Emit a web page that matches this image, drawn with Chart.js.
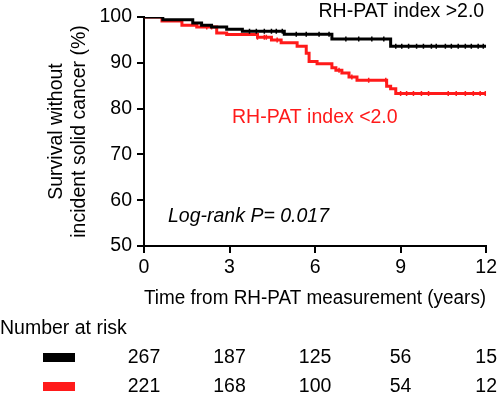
<!DOCTYPE html>
<html>
<head>
<meta charset="utf-8">
<script src="https://cdn.jsdelivr.net/npm/chart.js@4.4.1/dist/chart.umd.min.js"></script>
<style>
  html, body { margin: 0; padding: 0; background: #fff; }
  #wrap { position: relative; width: 500px; height: 397px; }
</style>
</head>
<body>
<div id="wrap"><canvas id="kmChart"></canvas></div>
<script>
// step points: survival (%) drops to the given value at the given time (years)
const highTimes = [0, 0.66, 1.71, 2.02, 2.37, 2.90, 3.45, 4.92, 6.59, 8.65, 12];
const highSurv  = [100, 99.4, 98.7, 98.2, 97.8, 97.3, 96.9, 96.25, 95.2, 93.6, 93.6];
const lowTimes  = [0, 0.63, 1.33, 1.85, 2.55, 2.90, 3.98, 4.47, 4.81, 5.37, 5.69, 5.79, 6.07, 6.59, 6.73, 6.94, 7.19, 7.47, 8.51, 8.65, 8.83, 12];
const lowSurv   = [100, 99.1, 98.2, 97.8, 96.5, 96.2, 95.6, 95.0, 94.4, 93.6, 92.1, 90.3, 89.8, 88.9, 88.4, 87.8, 86.9, 86.2, 84.9, 84.35, 83.3, 83.3];

// censored observations (years)
const highCensor = [3.7, 3.94, 4.22, 4.47, 4.64, 4.85, 5.34, 5.69, 6.14, 6.49, 7.08, 7.53, 7.99, 8.41,
  8.83, 9.04, 9.28, 9.56, 9.8, 10.08, 10.25, 10.57, 10.78, 11.02, 11.27, 11.48, 11.72, 11.9];
const lowCensor = [2.2, 2.37, 3.98, 4.22, 4.29, 4.67, 6.84, 7.29, 7.88, 8.48,
  9.0, 9.21, 9.45, 9.73, 9.98, 10.67, 10.95, 11.27, 11.55, 11.79, 11.97];

const riskTimes = [0, 3, 6, 9, 12];
const riskHigh  = [267, 187, 125, 56, 15];
const riskLow   = [221, 168, 100, 54, 12];

const xTicks = [0, 3, 6, 9, 12];
const yTicks = [50, 60, 70, 80, 90, 100];

const RED = "#ff1a1a";
const FONT = "'Liberation Sans', Arial, Helvetica, sans-serif";
const FS = 19.5;

function toPoints(times, surv) {
  return times.map((t, i) => ({ x: t, y: surv[i] }));
}

function survAt(times, surv, t) {
  let s = surv[0];
  for (let i = 0; i < times.length; i++) {
    if (times[i] <= t) s = surv[i];
  }
  return s;
}

function censorPoints(cens, times, surv) {
  return cens.map(t => ({ x: t, y: survAt(times, surv, t) }));
}

const textPlugin = {
  id: "kmText",
  afterDraw(chart) {
    const { ctx, scales } = chart;
    const xs = scales.x;
    ctx.save();
    ctx.textBaseline = "middle";

    ctx.font = `${FS}px ${FONT}`;
    ctx.fillStyle = "#000";
    ctx.textAlign = "right";
    ctx.fillText("RH-PAT index >2.0", xs.getPixelForValue(12) - 2, 12);

    ctx.fillStyle = RED;
    ctx.textAlign = "left";
    ctx.fillText("RH-PAT index <2.0", 232, 118);

    ctx.fillStyle = "#000";
    ctx.font = `italic ${FS}px ${FONT}`;
    ctx.fillText("Log-rank P= 0.017", 168, 217);

    // number at risk table
    ctx.font = `${FS}px ${FONT}`;
    ctx.textAlign = "left";
    ctx.fillText("Number at risk", 0, 329);

    ctx.fillStyle = "#000";
    ctx.fillRect(43, 353, 32, 9);
    ctx.fillStyle = RED;
    ctx.fillRect(43, 382, 32, 9);

    ctx.fillStyle = "#000";
    ctx.textAlign = "center";
    riskTimes.forEach((t, i) => {
      const x = xs.getPixelForValue(t);
      ctx.fillText(String(riskHigh[i]), x, 358);
      ctx.fillText(String(riskLow[i]), x, 387);
    });
    ctx.restore();
  }
};

new Chart(document.getElementById("kmChart"), {
  type: "line",
  data: {
    datasets: [
      {
        label: "RH-PAT index >2.0",
        data: toPoints(highTimes, highSurv),
        borderColor: "#000",
        borderWidth: 3,
        stepped: "before",
        pointRadius: 0,
        fill: false
      },
      {
        type: "scatter",
        label: "censor high",
        data: censorPoints(highCensor, highTimes, highSurv),
        pointStyle: "line",
        rotation: 90,
        radius: 2.5,
        borderColor: "#000",
        borderWidth: 1.5
      },
      {
        label: "RH-PAT index <2.0",
        data: toPoints(lowTimes, lowSurv),
        borderColor: RED,
        borderWidth: 3,
        stepped: "before",
        pointRadius: 0,
        fill: false
      },
      {
        type: "scatter",
        label: "censor low",
        data: censorPoints(lowCensor, lowTimes, lowSurv),
        pointStyle: "line",
        rotation: 90,
        radius: 2.5,
        borderColor: RED,
        borderWidth: 1.5
      }
    ]
  },
  options: {
    responsive: true,
    maintainAspectRatio: false,
    animation: false,
    layout: { padding: { left: 0, top: 17, right: 12, bottom: 87 } },
    plugins: {
      legend: { display: false },
      tooltip: { enabled: false }
    },
    scales: {
      x: {
        type: "linear",
        min: 0,
        max: 12,
        afterBuildTicks: scale => { scale.ticks = xTicks.map(v => ({ value: v })); },
        afterFit: scale => { scale.height = 64; },
        border: { display: true, color: "#000", width: 2 },
        grid: { display: true, drawOnChartArea: false, drawTicks: true, tickLength: 7, color: "#000", lineWidth: 2 },
        ticks: { color: "#000", padding: 3, maxRotation: 0, font: { family: FONT, size: FS } },
        title: {
          display: true,
          text: "Time from RH-PAT measurement (years)",
          color: "#000",
          align: "center",
          padding: 0,
          font: { family: FONT, size: 20 }
        }
      },
      y: {
        min: 50,
        max: 100,
        afterBuildTicks: scale => { scale.ticks = yTicks.map(v => ({ value: v })); },
        afterFit: scale => { scale.width = 144; },
        border: { display: true, color: "#000", width: 2 },
        grid: { display: true, drawOnChartArea: false, drawTicks: true, tickLength: 7, color: "#000", lineWidth: 2 },
        ticks: { color: "#000", padding: 5, font: { family: FONT, size: FS } },
        title: {
          display: true,
          text: ["Survival without", "incident solid cancer (%)"],
          color: "#000",
          padding: { top: 45, bottom: 0 },
          font: { family: FONT, size: FS }
        }
      }
    }
  },
  plugins: [textPlugin]
});
</script>
</body>
</html>
